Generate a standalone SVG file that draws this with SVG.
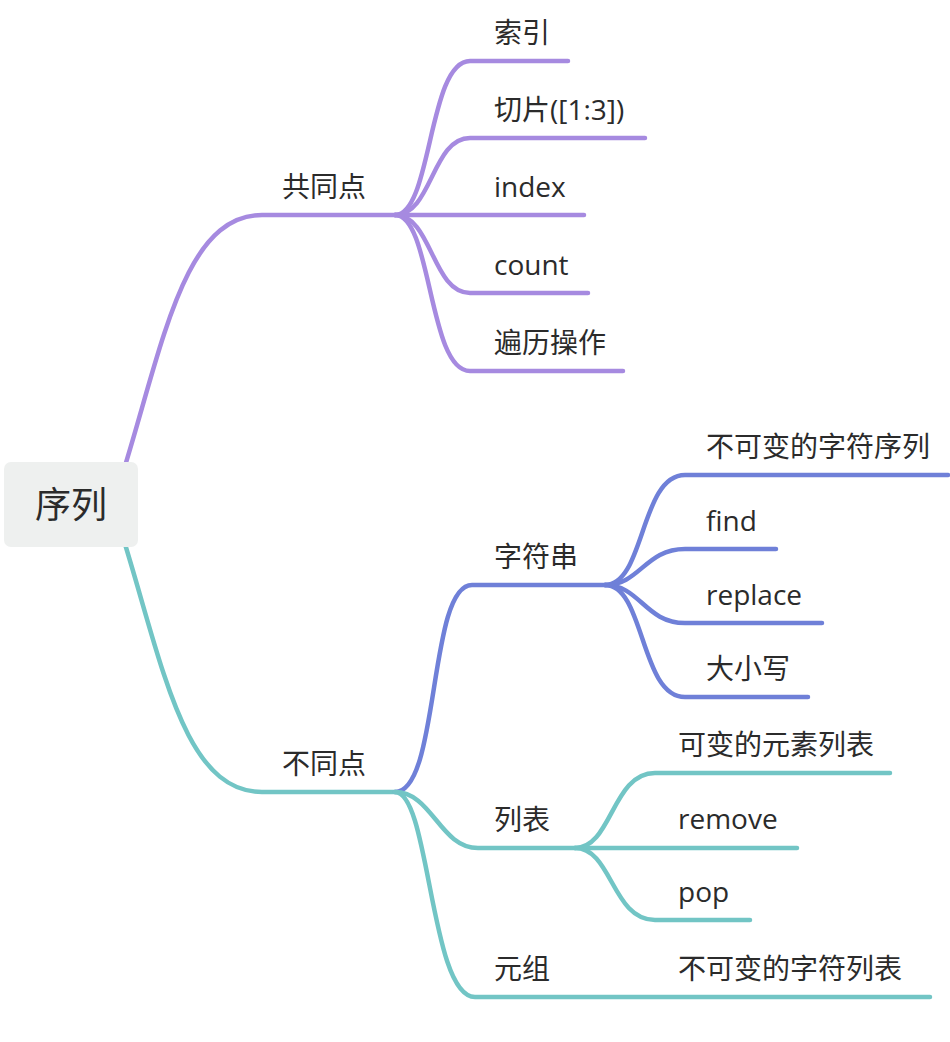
<svg xmlns="http://www.w3.org/2000/svg" width="950" height="1042" viewBox="0 0 950 1042">
<style>
.t{font-family:"Open Sans","Noto Sans CJK SC",sans-serif;font-size:28px;fill:#2b2b2b}
.r{font-family:"Noto Sans CJK SC",sans-serif;font-size:36px;fill:#2b2b2b}
.c{fill:none;stroke-width:4.5;stroke-linecap:round;stroke-linejoin:round}
.p{stroke:#A68AE0}.b{stroke:#6F80D8}.g{stroke:#72C5C5}
</style>
<rect width="950" height="1042" fill="#fff"/>
<g id="connectors">
<path class="c p" d="M120 482 C162 350 182 215 262 215 L395 215"/>
<path class="c g" d="M120 528 C162 660 182 792 262 792 L395 792"/>
<path class="c p" d="M395 215 C432 215 428 61 470 61 L568 61"/>
<path class="c p" d="M395 215 C432 215 432 138 470 138 L645 138"/>
<path class="c p" d="M395 215 L584 215"/>
<path class="c p" d="M395 215 C432 215 432 293 470 293 L588 293"/>
<path class="c p" d="M395 215 C432 215 428 371 470 371 L623 371"/>
<path class="c b" d="M395 792 C440 792 428 585 472 585 L605 585"/>
<path class="c g" d="M395 792 C432 792 440 848 478 848 L575 848"/>
<path class="c g" d="M395 792 C430 792 430 997 475 997 L930 997"/>
<path class="c b" d="M605 585 C645 585 640 475 685 475 L948 475"/>
<path class="c b" d="M605 585 C640 585 645 549 685 549 L776 549"/>
<path class="c b" d="M605 585 C640 585 645 623 685 623 L822 623"/>
<path class="c b" d="M605 585 C645 585 640 697 685 697 L808 697"/>
<path class="c g" d="M575 848 C612 848 612 773 655 773 L890 773"/>
<path class="c g" d="M575 848 L797 848"/>
<path class="c g" d="M575 848 C612 848 612 920 655 920 L750 920"/>
</g>
<g id="root"><rect x="4" y="462" width="134" height="85" rx="7" fill="#EEF0EF"/><text class="r" x="71" y="518" text-anchor="middle">序列</text></g>
<g id="n-gongtong"><text class="t" x="282" y="197">共同点</text></g>
<g id="n-butong"><text class="t" x="282" y="774">不同点</text></g>
<g id="n-suoyin"><text class="t" x="494" y="43">索引</text></g>
<g id="n-qiepian"><text class="t" x="494" y="120">切片([1:3])</text></g>
<g id="n-index"><text class="t" x="494" y="197">index</text></g>
<g id="n-count"><text class="t" x="494" y="275">count</text></g>
<g id="n-bianli"><text class="t" x="494" y="353">遍历操作</text></g>
<g id="n-zifuchuan"><text class="t" x="494" y="567">字符串</text></g>
<g id="n-liebiao"><text class="t" x="494" y="830">列表</text></g>
<g id="n-yuanzu"><text class="t" x="494" y="979">元组</text></g>
<g id="n-bkb1"><text class="t" x="706" y="457">不可变的字符序列</text></g>
<g id="n-find"><text class="t" x="706" y="531">find</text></g>
<g id="n-replace"><text class="t" x="706" y="605">replace</text></g>
<g id="n-daxiao"><text class="t" x="706" y="679">大小写</text></g>
<g id="n-kebian"><text class="t" x="678" y="755">可变的元素列表</text></g>
<g id="n-remove"><text class="t" x="678" y="829">remove</text></g>
<g id="n-pop"><text class="t" x="678" y="902">pop</text></g>
<g id="n-bkb2"><text class="t" x="678" y="979">不可变的字符列表</text></g>
</svg>
